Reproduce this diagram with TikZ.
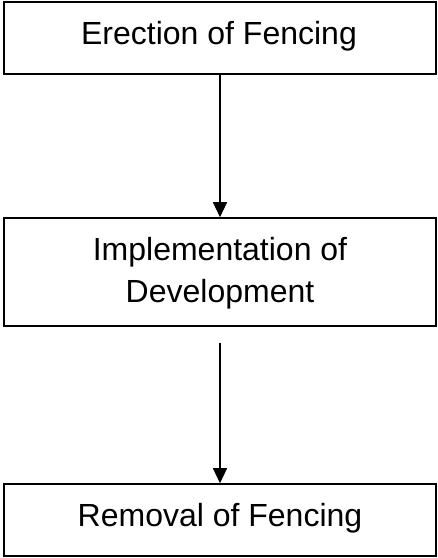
\documentclass[tikz,border=0pt]{standalone}
\usepackage{fontspec}
\setmainfont{Liberation Sans}
\usetikzlibrary{arrows.meta}
\begin{document}
\begin{tikzpicture}[x=1pt,y=-1pt,
  box/.style={draw=black,line width=1.6pt,rectangle,inner sep=0pt,minimum width=432pt},
  txt/.style={anchor=base,inner sep=0pt,font=\fontsize{32}{38}\selectfont},
  conn/.style={line width=1.4pt,-{Triangle[length=15pt,width=14pt]}}]
\useasboundingbox (0,0) rectangle (438,558);
\node[box,minimum height=72pt] (b1) at (220,38) {};
\node[box,minimum height=108pt] (b2) at (220,272) {};
\node[box,minimum height=72pt] (b3) at (220,520) {};
\node[txt] (t1) at (219,44) {Erection of Fencing};
\node[txt] (t2a) at (220,260) {Implementation of};
\node[txt] (t2b) at (220,302) {Development};
\node[txt] (t3) at (220,526) {Removal of Fencing};
\coordinate (s2) at (220,343);
\draw[conn] (b1.south) -- (b2.north);
\draw[conn] (s2) -- (b3.north);
\end{tikzpicture}
\end{document}
